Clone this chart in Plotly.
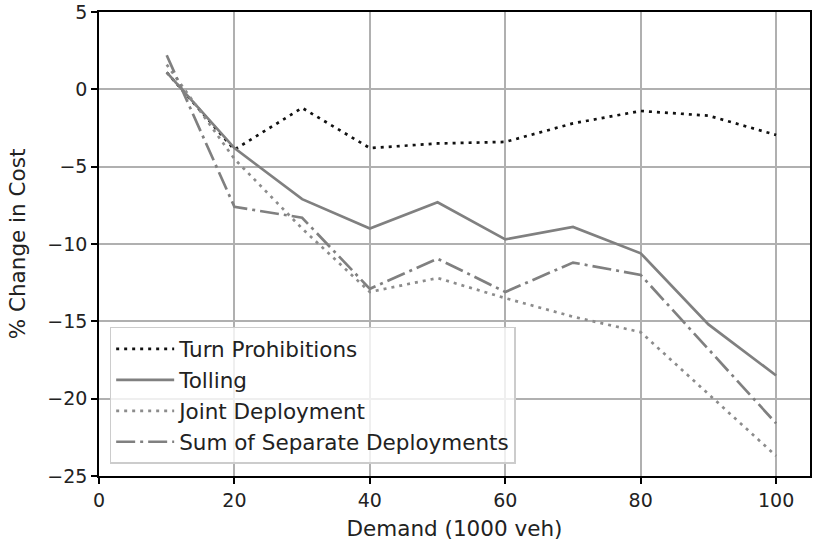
import plotly.graph_objects as go

demand = [10, 20, 30, 40, 50, 60, 70, 80, 90, 100]
turn_prohibitions = [1.1, -3.9, -1.2, -3.8, -3.5, -3.4, -2.2, -1.4, -1.7, -2.95]
tolling = [1.1, -3.8, -7.1, -9.0, -7.3, -9.7, -8.9, -10.6, -15.2, -18.5]
joint_deployment = [1.6, -4.5, -9.0, -13.1, -12.2, -13.5, -14.7, -15.7, -19.7, -23.7]
sum_separate = [2.2, -7.6, -8.3, -12.9, -10.95, -13.1, -11.2, -12.0, -16.8, -21.6]

x_ticks = [0, 20, 40, 60, 80, 100]
y_ticks = [5, 0, -5, -10, -15, -20, -25]

FONT = "DejaVu Sans"
tick_fs = 19
label_fs = 21.5

fig = go.Figure()
series = [
    ("Turn Prohibitions", turn_prohibitions, "#111111", "3px,5px"),
    ("Tolling", tolling, "#808080", "solid"),
    ("Joint Deployment", joint_deployment, "#8c8c8c", "3px,5px"),
    ("Sum of Separate Deployments", sum_separate, "#808080", "19px,5px,3px,5px"),
]
for i, (name, ys, color, dash) in enumerate(series):
    fig.add_trace(go.Scatter(
        x=demand, y=ys, mode="lines", name=name, legendgroup=f"g{i}",
        line=dict(color=color, width=2.7, dash=dash),
    ))

axis_common = dict(
    showline=True, linecolor="black", linewidth=1.5, mirror=True,
    showgrid=True, gridcolor="#b0b0b0", gridwidth=1.5,
    ticks="outside", ticklen=6, tickwidth=1.5, tickcolor="black",
    zeroline=False,
    tickfont=dict(family=FONT, size=tick_fs, color="#222222"),
)

fig.update_xaxes(
    range=[0, 105], tickvals=x_ticks,
    title=dict(text="Demand (1000 veh)", font=dict(family=FONT, size=label_fs, color="#222222"), standoff=11),
    **axis_common,
)
fig.update_yaxes(
    range=[-25, 5], tickvals=y_ticks,
    title=dict(text="% Change in Cost", font=dict(family=FONT, size=label_fs, color="#222222"), standoff=16),
    **axis_common,
)

fig.update_layout(
    width=813, height=541,
    margin=dict(l=99, r=1, t=12, b=65),
    paper_bgcolor="white", plot_bgcolor="white",
    font=dict(family=FONT, size=label_fs, color="#222222"),
    legend=dict(
        x=0.015, y=0.026, xanchor="left", yanchor="bottom",
        bgcolor="rgba(255,255,255,0.8)", bordercolor="#cccccc", borderwidth=1.5,
        font=dict(family=FONT, size=label_fs, color="#222222"),
        tracegroupgap=0, traceorder="grouped", itemwidth=58,
    ),
    showlegend=True,
)

fig.write_html("out.html")
